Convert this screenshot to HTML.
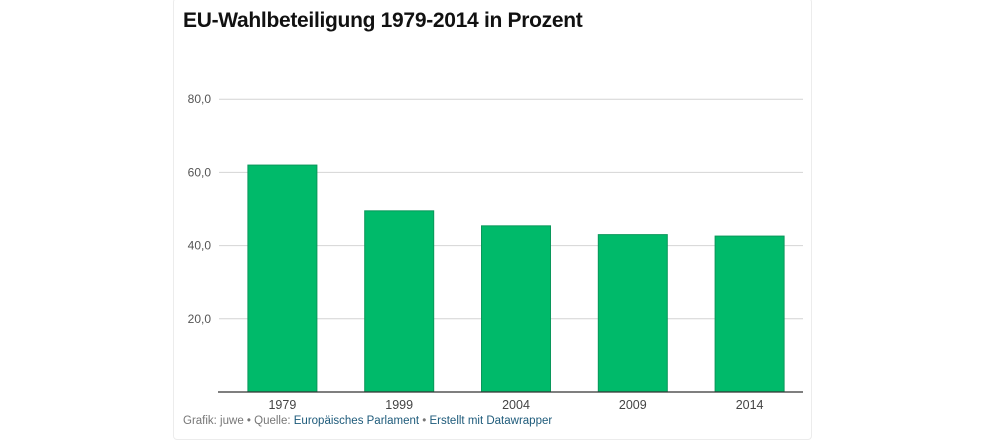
<!DOCTYPE html>
<html><head><meta charset="utf-8"><style>
html,body{margin:0;padding:0;background:#fff;width:983px;height:427px;overflow:hidden;font-family:"Liberation Sans",sans-serif}
#card{position:absolute;left:173px;top:-2px;width:637px;height:440px;border:1px solid #ececec;border-radius:4px}
#title{position:absolute;left:183px;top:9px;font-size:21px;font-weight:bold;color:#111;letter-spacing:-0.3px}
#foot{position:absolute;left:183px;top:415px;font-size:11.5px;color:#777}
#foot a{color:#1d5a7a;text-decoration:none}
svg{position:absolute;left:0;top:0}
</style></head><body>
<div id="card"></div>
<div id="title">EU-Wahlbeteiligung 1979-2014 in Prozent</div>
<svg id="chart" width="983" height="427"></svg>
<div id="foot">Grafik: juwe • Quelle: <a>Europäisches Parlament</a> • <a>Erstellt mit Datawrapper</a></div>
<script>
const categories=["1979","1999","2004","2009","2014"];
const values=[62.0,49.5,45.4,43.0,42.6];
const ticks=[20,40,60,80];
const tickLabels=["20,0","40,0","60,0","80,0"];
const NS="http://www.w3.org/2000/svg";
const svg=document.getElementById('chart');
const y0=392, pxPer=73.2/20, x0=219, x1=803;
const y=v=>y0-v*pxPer;
const slot=116.8;
const xc=i=>224+slot*(i+0.5);
function mk(t,a){const e=document.createElementNS(NS,t);for(const k in a)e.setAttribute(k,a[k]);svg.appendChild(e);return e;}
ticks.forEach((t,i)=>{
 const l=mk('line',{x1:x0,x2:x1,y1:y(t),y2:y(t),stroke:'#d4d4d4','stroke-width':1});
 
 
 const tx=mk('text',{x:211,y:y(t)+4,'text-anchor':'end','font-size':12,fill:'#555','font-family':'Liberation Sans, sans-serif'});
 tx.textContent=tickLabels[i];
 
 
});
const bw=69;
values.forEach((v,i)=>{
 const r=mk('rect',{x:xc(i)-bw/2,y:y(v),width:bw,height:y0-y(v),fill:'#00ba6a',stroke:'#09975a','stroke-width':1});
 
 
 const t=mk('text',{x:xc(i),y:409,'text-anchor':'middle','font-size':12.5,fill:'#444','font-family':'Liberation Sans, sans-serif'});
 t.textContent=categories[i];
 
 
});
const b=mk('line',{x1:x0-1,x2:x1,y1:y0,y2:y0,stroke:'#333','stroke-width':1.2});


</script>
</body></html>
